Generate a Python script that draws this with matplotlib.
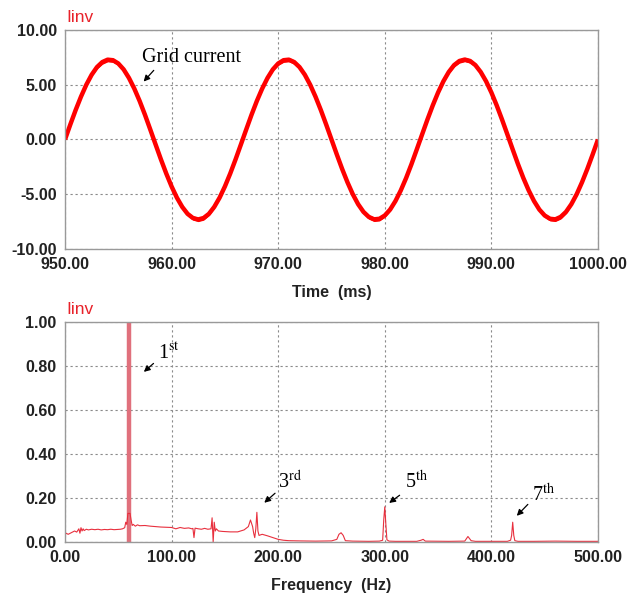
import numpy as np
import matplotlib
matplotlib.use("Agg")
import matplotlib.pyplot as plt

plt.rcParams['mathtext.fontset'] = 'stix'
plt.rcParams['axes.unicode_minus'] = False

# grid current waveform, read every 0.5 ms (centre of the band and half-width of the ripple)
time_ms = np.linspace(950, 1000, 101)
current = [0.00, 1.37, 2.69, 3.91, 5.00, 5.91, 6.61, 7.07, 7.29, 7.24,
           6.94, 6.40, 5.62, 4.65, 3.52, 2.26, 0.91, -0.46, -1.82, -3.11,
           -4.29, -5.32, -6.16, -6.79, -7.17, -7.30, -7.17, -6.79, -6.16, -5.32,
           -4.29, -3.11, -1.82, -0.46, 0.91, 2.26, 3.52, 4.65, 5.62, 6.40,
           6.94, 7.24, 7.29, 7.07, 6.61, 5.91, 5.00, 3.91, 2.69, 1.37,
           0.00, -1.37, -2.69, -3.91, -5.00, -5.91, -6.61, -7.07, -7.29, -7.24,
           -6.94, -6.40, -5.62, -4.65, -3.52, -2.26, -0.91, 0.46, 1.82, 3.11,
           4.29, 5.32, 6.16, 6.79, 7.17, 7.30, 7.17, 6.79, 6.16, 5.32,
           4.29, 3.11, 1.82, 0.46, -0.91, -2.26, -3.52, -4.65, -5.62, -6.40,
           -6.94, -7.24, -7.29, -7.07, -6.61, -5.91, -5.00, -3.91, -2.69, -1.37,
           0.00]
ripple = [0.02, 0.05, 0.08, 0.08, 0.11, 0.14, 0.17, 0.20, 0.20, 0.20,
          0.17, 0.14, 0.14, 0.11, 0.08, 0.05, 0.02, 0.02, 0.05, 0.08,
          0.11, 0.11, 0.14, 0.17, 0.20, 0.20, 0.20, 0.17, 0.14, 0.11,
          0.11, 0.08, 0.05, 0.02, 0.02, 0.05, 0.08, 0.11, 0.14, 0.14,
          0.17, 0.20, 0.20, 0.20, 0.17, 0.14, 0.11, 0.08, 0.08, 0.05,
          0.02, 0.05, 0.08, 0.08, 0.11, 0.14, 0.17, 0.20, 0.20, 0.20,
          0.17, 0.14, 0.14, 0.11, 0.08, 0.05, 0.02, 0.02, 0.05, 0.08,
          0.11, 0.11, 0.14, 0.17, 0.20, 0.20, 0.20, 0.17, 0.14, 0.11,
          0.11, 0.08, 0.05, 0.02, 0.02, 0.05, 0.08, 0.11, 0.14, 0.14,
          0.17, 0.20, 0.20, 0.20, 0.17, 0.14, 0.11, 0.08, 0.08, 0.05,
          0.02]

# spectrum of the inverter current
fund_freq = 60
fund_amp = 7.3
freq = [0, 1, 3, 5, 7, 9, 11, 13, 14, 15, 16, 17, 18, 20, 22, 25, 28, 31, 34,
        37, 40, 43, 46, 49, 52, 54, 56, 57, 58, 59, 61, 62, 63, 64, 66, 68, 70,
        75, 80, 85, 90, 95, 100, 104, 108, 112, 116, 119, 120, 121, 122, 125,
        128, 131, 134, 137, 138, 139, 140, 141, 142, 144, 148, 155, 162, 168,
        172, 174, 176, 177, 178, 179, 180, 181, 182, 185, 190, 195, 200, 205,
        210, 220, 235, 250, 255, 257, 259, 261, 263, 270, 285, 295, 298, 299,
        300, 301, 302, 304, 310, 330, 334, 336, 338, 360, 375, 378, 381, 385,
        400, 415, 418, 419, 420, 421, 422, 425, 440, 460, 480, 500]
amp = [0.03, 0.04, 0.035, 0.04, 0.045, 0.05, 0.045, 0.06, 0.04, 0.065, 0.05,
       0.06, 0.052, 0.058, 0.055, 0.058, 0.056, 0.058, 0.055, 0.057, 0.056,
       0.058, 0.056, 0.057, 0.058, 0.06, 0.065, 0.09, 0.08, 0.13, 0.13, 0.1,
       0.075, 0.08, 0.072, 0.078, 0.074, 0.075, 0.072, 0.07, 0.068, 0.067,
       0.066, 0.06, 0.066, 0.062, 0.064, 0.06, 0.062, 0.02, 0.063, 0.06,
       0.058, 0.062, 0.058, 0.06, 0.11, 0.0, 0.09, 0.05, 0.06, 0.05, 0.048,
       0.046, 0.046, 0.055, 0.07, 0.1, 0.07, 0.04, 0.02, 0.06, 0.135, 0.05,
       0.03, 0.035, 0.028, 0.02, 0.012, 0.008, 0.006, 0.005, 0.004, 0.005,
       0.012, 0.035, 0.042, 0.03, 0.006, 0.004, 0.003, 0.004, 0.008, 0.1,
       0.16, 0.08, 0.01, 0.004, 0.003, 0.003, 0.008, 0.012, 0.004, 0.003,
       0.004, 0.025, 0.006, 0.003, 0.003, 0.003, 0.008, 0.03, 0.09, 0.03,
       0.006, 0.003, 0.003, 0.004, 0.003, 0.003]

fig = plt.figure(figsize=(6.28, 5.96), dpi=100)
ax1 = fig.add_axes([0.1035, 0.5822, 0.8487, 0.3675])
ax2 = fig.add_axes([0.1035, 0.0906, 0.8487, 0.3691])

tick_font = dict(family='Liberation Sans', size=11.5, weight='bold')
serif = 'Liberation Serif'


def style(ax, xlabel):
    for s in ax.spines.values():
        s.set_color('#999999')
        s.set_linewidth(1.0)
    ax.grid(True, color='#8a8a8a', linestyle=(0, (2, 2.5)), linewidth=0.8)
    ax.set_axisbelow(True)
    ax.tick_params(length=0, pad=6)
    for lab in ax.get_xticklabels() + ax.get_yticklabels():
        lab.set_fontproperties(matplotlib.font_manager.FontProperties(**tick_font))
        lab.set_color('#222222')
    ax.set_xlabel(xlabel, fontdict=tick_font, color='#222222', labelpad=9)
    ax.text(0.003, 1.025, 'Iinv', transform=ax.transAxes, color='#e8222a',
            fontsize=12.5, family='Liberation Sans', va='bottom', ha='left')


# top: grid current
ax1.fill_between(time_ms, np.array(current) - np.array(ripple),
                 np.array(current) + np.array(ripple), color='#ff0000', lw=0)
ax1.plot(time_ms, current, color='#ff0000', lw=3.2,
         solid_joinstyle='round', solid_capstyle='butt')
ax1.set_xlim(950, 1000)
ax1.set_ylim(-10, 10)
ax1.set_xticks(np.arange(950, 1001, 10))
ax1.set_yticks(np.arange(-10, 11, 5))
ax1.xaxis.set_major_formatter('{x:.2f}')
ax1.yaxis.set_major_formatter('{x:.2f}')
style(ax1, 'Time  (ms)')
ax1.annotate('', xy=(957.2, 5.1), xytext=(958.5, 6.5),
             arrowprops=dict(arrowstyle='-|>', color='black', lw=0.9,
                             mutation_scale=9))
ax1.text(957.2, 7.45, 'Grid current', family=serif, fontsize=14.5,
         va='center', ha='left')

# bottom: spectrum
ax2.vlines(fund_freq, 0.0, fund_amp, color='#e0707c', lw=3.2)
ax2.plot(freq, amp, color='#e8303e', lw=0.8)
ax2.set_xlim(0, 500)
ax2.set_ylim(0, 1)
ax2.set_xticks(np.arange(0, 501, 100))
ax2.set_yticks(np.arange(0, 1.01, 0.2))
ax2.xaxis.set_major_formatter('{x:.2f}')
ax2.yaxis.set_major_formatter('{x:.2f}')
style(ax2, 'Frequency  (Hz)')

labels = [(r'1$^{\mathrm{st}}$', (72, 0.765), (85, 0.82), (87, 0.86)),
          (r'3$^{\mathrm{rd}}$', (185, 0.17), (199, 0.23), (200, 0.27)),
          (r'5$^{\mathrm{th}}$', (302, 0.17), (316, 0.22), (319, 0.27)),
          (r'7$^{\mathrm{th}}$', (422, 0.11), (436, 0.18), (438, 0.21))]
for txt, tip, tail, pos in labels:
    ax2.annotate('', xy=tip, xytext=tail,
                 arrowprops=dict(arrowstyle='-|>', color='black', lw=0.9,
                                 mutation_scale=9))
    ax2.text(pos[0], pos[1], txt, family=serif, fontsize=14.5,
             va='center', ha='left')

fig.savefig('out.png', dpi=100)
